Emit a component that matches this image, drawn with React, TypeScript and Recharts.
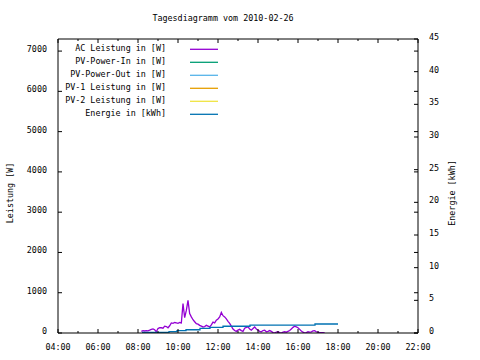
import React from 'react';
import { LineChart, Line, XAxis, YAxis, ReferenceLine } from 'recharts';

// ---- data ----
const TITLE = 'Tagesdiagramm vom 2010-02-26';
const LEFT_TITLE = 'Leistung [W]';
const RIGHT_TITLE = 'Energie [kWh]';

const X_TICKS = [4, 5, 6, 7, 8, 9, 10, 11, 12, 13, 14, 15, 16, 17, 18, 19, 20, 21, 22];
const LEFT_TICKS = [0, 1000, 2000, 3000, 4000, 5000, 6000, 7000];
const RIGHT_TICKS = [0, 5, 10, 15, 20, 25, 30, 35, 40, 45];
const LEFT_MAX = 7300;
const RIGHT_MAX = 45;

const SERIES_NAMES = [
  'AC Leistung in [W]',
  'PV-Power-In in [W]',
  'PV-Power-Out in [W]',
  'PV-1 Leistung in [W]',
  'PV-2 Leistung in [W]',
  'Energie in [kWh]',
];
const SERIES_COLORS = ['#9400d3', '#009e73', '#56b4e9', '#e69f00', '#f0e442', '#0072b2'];

// AC power, sampled every 5 minutes from 08:10
const AC_START = '08:10';
const AC_WATTS = [
  40, 60, 50, 60, 55, 70, 90, 100, 80, 30,
  110, 130, 130, 120, 170, 160, 130, 180, 250, 240,
  260, 250, 240, 260, 250, 730, 380, 560, 810, 480,
  400, 330, 280, 230, 220, 190, 170, 150, 160, 190,
  170, 150, 200, 270, 250, 320, 350, 400, 510, 430,
  400, 350, 290, 240, 170, 100, 60, 40, 70, 90,
  60, 40, 120, 140, 150, 100, 70, 110, 150, 100,
  70, 40, 30, 60, 70, 30, 40, 60, 40, 10,
  0, 20, 30, 10, 0, 20, 30, 20, 40, 60,
  100, 140, 170, 150, 130, 90, 50, 20, 0, 10,
  30, 20, 30, 50, 60, 30, 20, 10, 10, 10, 0,
];

const ENERGY_TIMES = ['08:12', '09:33', '09:57', '10:24', '11:06', '11:36', '12:15', '13:36', '16:51', '18:00'];
const ENERGY_KWH = [0.1, 0.2, 0.35, 0.5, 0.72, 0.87, 1.03, 1.22, 1.38, 1.38];

// ---- helpers ----
const toHours = (s: string) => {
  const [h, m] = s.split(':').map(Number);
  return h + m / 60;
};
const fmtHour = (h: number) => `${String(h).padStart(2, '0')}:00`;

const acData = AC_WATTS.map((v, i) => ({ t: toHours(AC_START) + (i * 5) / 60, v }));
const energyData = ENERGY_TIMES.map((s, i) => ({ t: toHours(s), v: ENERGY_KWH[i] }));

const FONT = "'DejaVu Sans Mono', monospace";
const FS = 8.4;
const W = 480;
const H = 360;
const MARGIN = { top: 39, right: 12, bottom: 7, left: 8 };
const Y_W = 50;
const X_H = 20;
const PLOT_W = W - MARGIN.left - MARGIN.right - 2 * Y_W;
const PLOT_H = H - MARGIN.top - MARGIN.bottom - X_H;

const XTick = (props: any) => {
  const { x, y, payload } = props;
  const h = payload.value as number;
  const major = h % 2 === 0;
  const len = major ? 4 : 2;
  return (
    <g>
      <line x1={x} y1={y} x2={x} y2={y - len} stroke="#000" />
      <line x1={x} y1={y - PLOT_H} x2={x} y2={y - PLOT_H + len} stroke="#000" />
      {major && (
        <text x={x} y={y + 14} textAnchor="middle" dominantBaseline="central" fontFamily={FONT} fontSize={FS} fill="#000">
          {fmtHour(h)}
        </text>
      )}
    </g>
  );
};

const LeftTick = (props: any) => {
  const { x, y, payload } = props;
  return (
    <g>
      <line x1={x} y1={y} x2={x + 4} y2={y} stroke="#000" />
      <line x1={x + PLOT_W} y1={y} x2={x + PLOT_W - 4} y2={y} stroke="#000" />
      <text x={x - 11} y={y - 2} textAnchor="end" dominantBaseline="central" fontFamily={FONT} fontSize={FS} fill="#000">
        {payload.value}
      </text>
    </g>
  );
};

const RightTick = (props: any) => {
  const { x, y, payload } = props;
  return (
    <g>
      <line x1={x} y1={y} x2={x - 4} y2={y} stroke="#000" />
      <text x={x + 11} y={y - 2} textAnchor="start" dominantBaseline="central" fontFamily={FONT} fontSize={FS} fill="#000">
        {payload.value}
      </text>
    </g>
  );
};

export default function App() {
  return (
    <div style={{ position: 'absolute', left: 0, top: 0, width: W, height: H, background: '#fff' }}>
      <LineChart width={W} height={H} data={acData} margin={MARGIN}>
        <XAxis
          xAxisId="x"
          dataKey="t"
          type="number"
          domain={[4, 22]}
          ticks={X_TICKS}
          interval={0}
          allowDataOverflow
          height={X_H}
          tickSize={0}
          tickMargin={0}
          tickLine={false}
          tick={<XTick />}
          axisLine={{ stroke: '#000' }}
        />
        <YAxis
          yAxisId="left"
          orientation="left"
          type="number"
          domain={[0, LEFT_MAX]}
          ticks={LEFT_TICKS}
          interval={0}
          allowDataOverflow
          width={Y_W}
          tickSize={0}
          tickMargin={0}
          tickLine={false}
          tick={<LeftTick />}
          axisLine={{ stroke: '#000' }}
        />
        <YAxis
          yAxisId="right"
          orientation="right"
          type="number"
          domain={[0, RIGHT_MAX]}
          ticks={RIGHT_TICKS}
          interval={0}
          allowDataOverflow
          width={Y_W}
          tickSize={0}
          tickMargin={0}
          tickLine={false}
          tick={<RightTick />}
          axisLine={{ stroke: '#000' }}
        />
        <ReferenceLine xAxisId="x" yAxisId="left" y={LEFT_MAX} stroke="#000" />
        <Line
          xAxisId="x"
          yAxisId="left"
          data={acData}
          dataKey="v"
          type="linear"
          stroke={SERIES_COLORS[0]}
          strokeWidth={1.3}
          dot={false}
          isAnimationActive={false}
        />
        <Line
          xAxisId="x"
          yAxisId="right"
          data={energyData}
          dataKey="v"
          type="stepAfter"
          stroke={SERIES_COLORS[5]}
          strokeWidth={1.3}
          dot={false}
          isAnimationActive={false}
        />
      </LineChart>
      <svg
        width={W}
        height={H}
        style={{ position: 'absolute', left: 0, top: 0, pointerEvents: 'none' }}
      >
        <text x={223} y={18} textAnchor="middle" dominantBaseline="central" fontFamily={FONT} fontSize={FS} fill="#000">
          {TITLE}
        </text>
        <text
          x={10}
          y={193}
          transform="rotate(-90 10 193)"
          textAnchor="middle"
          dominantBaseline="central"
          fontFamily={FONT}
          fontSize={FS}
          fill="#000"
        >
          {LEFT_TITLE}
        </text>
        <text
          x={452}
          y={193}
          transform="rotate(-90 452 193)"
          textAnchor="middle"
          dominantBaseline="central"
          fontFamily={FONT}
          fontSize={FS}
          fill="#000"
        >
          {RIGHT_TITLE}
        </text>
        {SERIES_NAMES.map((name, i) => (
          <g key={name}>
            <text
              x={166}
              y={47.5 + 13 * i}
              textAnchor="end"
              dominantBaseline="central"
              fontFamily={FONT}
              fontSize={FS}
              fill="#000"
            >
              {name}
            </text>
            <line x1={190} x2={218} y1={49.3 + 13 * i} y2={49.3 + 13 * i} stroke={SERIES_COLORS[i]} strokeWidth={1.3} />
          </g>
        ))}
      </svg>
    </div>
  );
}
